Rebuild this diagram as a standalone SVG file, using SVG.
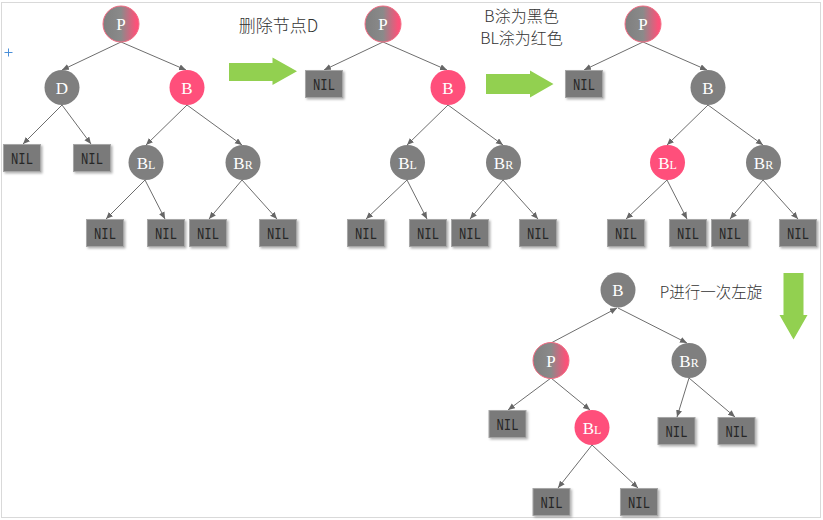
<svg xmlns="http://www.w3.org/2000/svg" width="823" height="520" viewBox="0 0 823 520">
<defs>
<linearGradient id="pg" x1="0" y1="0" x2="1" y2="0">
<stop offset="0" stop-color="#7f7f7f"/>
<stop offset="0.5" stop-color="#8a8a8a"/>
<stop offset="0.92" stop-color="#fb5279"/>
<stop offset="1" stop-color="#ff4f7b"/>
</linearGradient>
<marker id="ah" markerUnits="userSpaceOnUse" markerWidth="8" markerHeight="7" refX="7" refY="3" orient="auto">
<path d="M0,0 L7,3 L0,6 z" fill="#666"/>
</marker>
<filter id="sh" x="-20%" y="-20%" width="150%" height="150%">
<feDropShadow dx="1.5" dy="1.5" stdDeviation="0.8" flood-color="#000" flood-opacity="0.3"/>
</filter>
</defs>
<style>
.blk{fill:#7f7f7f}
.red{fill:#ff4f7b}
.pp{fill:url(#pg);stroke:#f46a82;stroke-width:1}
.nil{fill:#7a7a7a;stroke:#a6a6a6;stroke-width:1;filter:url(#sh)}
.nt{font-family:"Liberation Mono",monospace;font-size:17px;fill:#262626;text-anchor:middle}
.ct{font-family:"Liberation Serif",serif;font-size:17px;fill:#ffffff;text-anchor:middle}
.sub{font-size:12px}
.lbl{font-family:"Noto Sans CJK SC",sans-serif;font-size:17px;font-weight:300;fill:#333;text-anchor:middle}
.lbl2{font-size:15.5px}
.lbl3{font-size:16px}
.cn line{stroke:#6e6e6e;stroke-width:1;marker-end:url(#ah)}
.ga{fill:#92d050}
</style>
<rect x="1.5" y="2.5" width="819" height="515" fill="#fff" stroke="#d9d9d9"/>
<g id="cursor" stroke="#4a8fd8" stroke-width="1"><line x1="4.5" y1="52.5" x2="12.5" y2="52.5"/><line x1="8.5" y1="48.5" x2="8.5" y2="56.5"/></g>

<g id="connectors" class="cn">
<line x1="121" y1="42" x2="62" y2="70"/>
<line x1="121" y1="42" x2="186" y2="70"/>
<line x1="62" y1="105" x2="23" y2="144"/>
<line x1="62" y1="105" x2="91" y2="144"/>
<line x1="187" y1="105" x2="146" y2="145"/>
<line x1="187" y1="105" x2="242" y2="145"/>
<line x1="145" y1="180" x2="106" y2="219"/>
<line x1="145" y1="180" x2="165" y2="219"/>
<line x1="242" y1="180" x2="209" y2="219"/>
<line x1="242" y1="180" x2="277" y2="219"/>
<line x1="383" y1="42" x2="324" y2="70"/>
<line x1="383" y1="42" x2="447" y2="70"/>
<line x1="448" y1="105" x2="407" y2="145"/>
<line x1="448" y1="105" x2="503" y2="145"/>
<line x1="407" y1="180" x2="366" y2="219"/>
<line x1="407" y1="180" x2="427" y2="219"/>
<line x1="503" y1="180" x2="470" y2="219"/>
<line x1="503" y1="180" x2="538" y2="219"/>
<line x1="643" y1="42" x2="584" y2="70"/>
<line x1="643" y1="42" x2="707" y2="70"/>
<line x1="708" y1="105" x2="667" y2="145"/>
<line x1="708" y1="105" x2="763" y2="145"/>
<line x1="667" y1="180" x2="626" y2="219"/>
<line x1="667" y1="180" x2="687" y2="219"/>
<line x1="763" y1="180" x2="730" y2="219"/>
<line x1="763" y1="180" x2="798" y2="219"/>
<line x1="551" y1="343" x2="617" y2="308"/>
<line x1="618" y1="308" x2="687" y2="343"/>
<line x1="551" y1="378" x2="508" y2="410"/>
<line x1="551" y1="378" x2="590" y2="410"/>
<line x1="689" y1="378" x2="677" y2="417"/>
<line x1="689" y1="378" x2="735" y2="417"/>
<line x1="592" y1="445" x2="558" y2="488"/>
<line x1="592" y1="445" x2="638" y2="488"/>
</g>

<g id="t1-P"><circle class="pp" cx="121" cy="24" r="18"/><text class="ct" x="121" y="30">P</text></g>
<g id="t1-D"><circle class="blk" cx="62" cy="87.5" r="17.5"/><text class="ct" x="62" y="93.5">D</text></g>
<g id="t1-B"><circle class="red" cx="187" cy="87.5" r="17.5"/><text class="ct" x="187" y="93.5">B</text></g>
<g id="t1-BL"><circle class="blk" cx="146" cy="162.5" r="17.5"/><text class="ct" x="146" y="168.5">B<tspan class="sub">L</tspan></text></g>
<g id="t1-BR"><circle class="blk" cx="243" cy="162.5" r="17.5"/><text class="ct" x="243" y="168.5">B<tspan class="sub">R</tspan></text></g>
<g id="t1-nil1"><rect class="nil" x="3.5" y="144.5" width="37" height="27"/><text class="nt" x="22" y="164" textLength="22" lengthAdjust="spacingAndGlyphs">NIL</text></g>
<g id="t1-nil2"><rect class="nil" x="73.5" y="144.5" width="37" height="27"/><text class="nt" x="92" y="164" textLength="22" lengthAdjust="spacingAndGlyphs">NIL</text></g>
<g id="t1-nil3"><rect class="nil" x="86.5" y="219.5" width="37" height="27"/><text class="nt" x="105" y="239" textLength="22" lengthAdjust="spacingAndGlyphs">NIL</text></g>
<g id="t1-nil4"><rect class="nil" x="147.5" y="219.5" width="37" height="27"/><text class="nt" x="166" y="239" textLength="22" lengthAdjust="spacingAndGlyphs">NIL</text></g>
<g id="t1-nil5"><rect class="nil" x="189.5" y="219.5" width="37" height="27"/><text class="nt" x="208" y="239" textLength="22" lengthAdjust="spacingAndGlyphs">NIL</text></g>
<g id="t1-nil6"><rect class="nil" x="259.5" y="219.5" width="37" height="27"/><text class="nt" x="278" y="239" textLength="22" lengthAdjust="spacingAndGlyphs">NIL</text></g>

<g id="t2-P"><circle class="pp" cx="383" cy="24" r="18"/><text class="ct" x="383" y="30">P</text></g>
<g id="t2-B"><circle class="red" cx="448" cy="87.5" r="17.5"/><text class="ct" x="448" y="93.5">B</text></g>
<g id="t2-BL"><circle class="blk" cx="407.5" cy="162.5" r="17.5"/><text class="ct" x="407.5" y="168.5">B<tspan class="sub">L</tspan></text></g>
<g id="t2-BR"><circle class="blk" cx="503.5" cy="162.5" r="17.5"/><text class="ct" x="503.5" y="168.5">B<tspan class="sub">R</tspan></text></g>
<g id="t2-nil1"><rect class="nil" x="305.5" y="70.5" width="37" height="27"/><text class="nt" x="324" y="90" textLength="22" lengthAdjust="spacingAndGlyphs">NIL</text></g>
<g id="t2-nil2"><rect class="nil" x="347.5" y="219.5" width="37" height="27"/><text class="nt" x="366" y="239" textLength="22" lengthAdjust="spacingAndGlyphs">NIL</text></g>
<g id="t2-nil3"><rect class="nil" x="409.5" y="219.5" width="37" height="27"/><text class="nt" x="428" y="239" textLength="22" lengthAdjust="spacingAndGlyphs">NIL</text></g>
<g id="t2-nil4"><rect class="nil" x="451.5" y="219.5" width="37" height="27"/><text class="nt" x="470" y="239" textLength="22" lengthAdjust="spacingAndGlyphs">NIL</text></g>
<g id="t2-nil5"><rect class="nil" x="519.5" y="219.5" width="37" height="27"/><text class="nt" x="538" y="239" textLength="22" lengthAdjust="spacingAndGlyphs">NIL</text></g>

<g id="t3-P"><circle class="pp" cx="643" cy="24" r="18"/><text class="ct" x="643" y="30">P</text></g>
<g id="t3-B"><circle class="blk" cx="708" cy="87.5" r="17.5"/><text class="ct" x="708" y="93.5">B</text></g>
<g id="t3-BL"><circle class="red" cx="667.5" cy="162.5" r="17.5"/><text class="ct" x="667.5" y="168.5">B<tspan class="sub">L</tspan></text></g>
<g id="t3-BR"><circle class="blk" cx="763.5" cy="162.5" r="17.5"/><text class="ct" x="763.5" y="168.5">B<tspan class="sub">R</tspan></text></g>
<g id="t3-nil1"><rect class="nil" x="565.5" y="70.5" width="37" height="27"/><text class="nt" x="584" y="90" textLength="22" lengthAdjust="spacingAndGlyphs">NIL</text></g>
<g id="t3-nil2"><rect class="nil" x="607.5" y="219.5" width="37" height="27"/><text class="nt" x="626" y="239" textLength="22" lengthAdjust="spacingAndGlyphs">NIL</text></g>
<g id="t3-nil3"><rect class="nil" x="669.5" y="219.5" width="37" height="27"/><text class="nt" x="688" y="239" textLength="22" lengthAdjust="spacingAndGlyphs">NIL</text></g>
<g id="t3-nil4"><rect class="nil" x="711.5" y="219.5" width="37" height="27"/><text class="nt" x="730" y="239" textLength="22" lengthAdjust="spacingAndGlyphs">NIL</text></g>
<g id="t3-nil5"><rect class="nil" x="779.5" y="219.5" width="37" height="27"/><text class="nt" x="798" y="239" textLength="22" lengthAdjust="spacingAndGlyphs">NIL</text></g>

<g id="t4-B"><circle class="blk" cx="618" cy="290" r="17.5"/><text class="ct" x="618" y="296">B</text></g>
<g id="t4-P"><circle class="pp" cx="551" cy="360.5" r="18"/><text class="ct" x="551" y="366.5">P</text></g>
<g id="t4-BR"><circle class="blk" cx="689" cy="360.5" r="17.5"/><text class="ct" x="689" y="366.5">B<tspan class="sub">R</tspan></text></g>
<g id="t4-BL"><circle class="red" cx="592" cy="427.5" r="17.5"/><text class="ct" x="592" y="433.5">B<tspan class="sub">L</tspan></text></g>
<g id="t4-nil1"><rect class="nil" x="489" y="410.5" width="37" height="27"/><text class="nt" x="507.5" y="430" textLength="22" lengthAdjust="spacingAndGlyphs">NIL</text></g>
<g id="t4-nil2"><rect class="nil" x="658" y="417.5" width="37" height="27"/><text class="nt" x="676.5" y="437" textLength="22" lengthAdjust="spacingAndGlyphs">NIL</text></g>
<g id="t4-nil3"><rect class="nil" x="718" y="417.5" width="37" height="27"/><text class="nt" x="736.5" y="437" textLength="22" lengthAdjust="spacingAndGlyphs">NIL</text></g>
<g id="t4-nil4"><rect class="nil" x="533" y="488.5" width="37" height="27"/><text class="nt" x="551.5" y="508" textLength="22" lengthAdjust="spacingAndGlyphs">NIL</text></g>
<g id="t4-nil5"><rect class="nil" x="620.5" y="488.5" width="37" height="27"/><text class="nt" x="639" y="508" textLength="22" lengthAdjust="spacingAndGlyphs">NIL</text></g>

<g id="arrow1"><polygon class="ga" points="229,63 272.5,63 272.5,57.5 297,71.3 272.5,85 272.5,81 229,81"/></g>
<g id="arrow2"><polygon class="ga" points="486,74 530,74 530,70.5 553.5,84 530,97.5 530,94 486,94"/></g>
<g id="arrow3"><polygon class="ga" points="783.5,273 803.5,273 803.5,315 807.5,315 793.5,339.5 779.5,315 783.5,315"/></g>

<text class="lbl" x="278.5" y="32">删除节点D</text>
<text class="lbl lbl3" x="521.5" y="21.5">B涂为黑色</text>
<text class="lbl lbl3" x="521.5" y="43.5">BL涂为红色</text>
<text class="lbl lbl2" x="711" y="298">P进行一次左旋</text>
</svg>
